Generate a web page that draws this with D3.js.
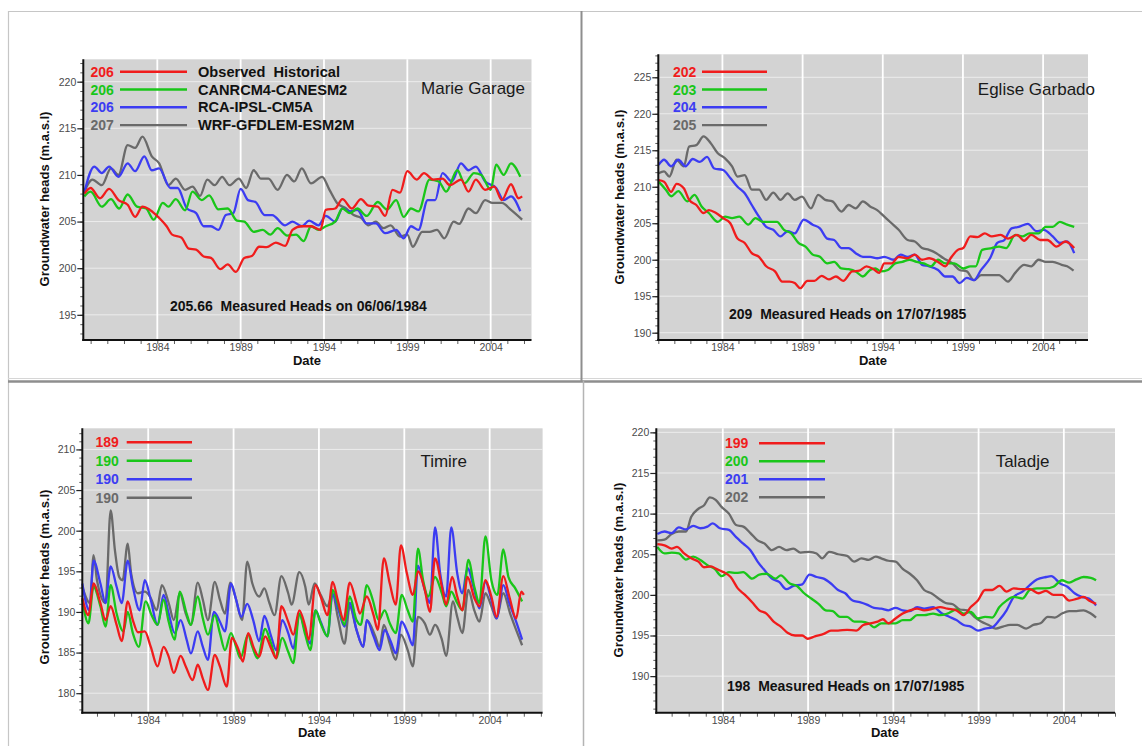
<!DOCTYPE html>
<html>
<head>
<meta charset="utf-8">
<script src="https://cdn.jsdelivr.net/npm/d3@7"></script>
<style>
  body { margin: 0; background: #ffffff; }
  svg { display: block; }
  text { font-family: "Liberation Sans", Arial, Helvetica, sans-serif; }
</style>
</head>
<body>
<svg id="fig" width="1142" height="746"></svg>
<script>
// ---------- shared labels ----------
const seriesNames = ["Observed  Historical", "CANRCM4-CANESM2", "RCA-IPSL-CM5A", "WRF-GFDLEM-ESM2M"];
const seriesColors = ["#f01c1c", "#19c619", "#3c3cf2", "#6a6a6a"];
const yearTicks = [1984, 1989, 1994, 1999, 2004];
const yAxisTitle = "Groundwater heads (m.a.s.l)";
const xAxisTitle = "Date";

// ---------- Marie Garage ----------
const marieLegend = ["206", "206", "206", "207"];
const marieYTicks = [195, 200, 205, 210, 215, 220];
const marieNote = "205.66  Measured Heads on 06/06/1984";
const marieObserved = [[1979.62,208.0],[1980.0,208.6],[1980.56,207.5],[1981.11,208.5],[1981.67,207.3],[1982.22,206.8],[1982.67,205.5],[1983.11,206.6],[1983.56,206.25],[1984.11,205.4],[1984.56,204.5],[1984.89,203.6],[1985.44,203.3],[1985.89,202.1],[1986.33,202.0],[1986.78,201.25],[1987.22,201.1],[1987.78,199.9],[1988.22,200.4],[1988.71,199.6],[1989.22,201.1],[1989.67,201.3],[1990.11,202.3],[1990.56,202.25],[1991.11,202.75],[1991.67,202.4],[1992.11,204.1],[1992.67,204.5],[1993.22,204.5],[1993.78,204.1],[1994.11,206.25],[1994.67,206.4],[1995.11,207.4],[1995.67,206.4],[1996.22,207.4],[1996.67,206.7],[1997.22,206.6],[1997.67,205.6],[1998.11,208.4],[1998.56,208.1],[1999.0,210.4],[1999.56,209.5],[2000.0,210.2],[2000.56,209.5],[2001.11,209.6],[2001.56,208.9],[2002.22,209.5],[2002.67,208.2],[2003.11,209.5],[2003.67,208.4],[2004.22,208.75],[2004.67,207.3],[2005.22,209.0],[2005.67,207.5],[2005.89,207.7]];
const marieCanrcm4 = [[1979.62,207.7],[1980.0,208.2],[1980.67,206.6],[1981.22,207.4],[1981.71,206.4],[1982.22,207.9],[1982.78,206.6],[1983.33,206.4],[1983.78,205.2],[1984.33,207.0],[1984.67,206.6],[1985.11,207.4],[1985.67,206.2],[1986.11,208.2],[1986.67,207.3],[1987.11,207.8],[1987.67,206.3],[1988.22,206.4],[1988.78,205.1],[1989.22,205.0],[1989.78,203.9],[1990.33,204.1],[1990.78,203.6],[1991.22,204.3],[1991.78,203.5],[1992.33,203.6],[1992.78,202.9],[1993.22,204.5],[1993.67,204.1],[1994.11,204.5],[1994.67,205.0],[1995.11,206.4],[1995.56,205.9],[1996.0,206.4],[1996.56,205.6],[1997.22,207.1],[1997.78,206.3],[1998.33,207.3],[1998.78,205.5],[1999.22,206.4],[1999.67,206.1],[2000.33,209.5],[2000.89,209.3],[2001.33,208.2],[2002.0,210.5],[2002.44,209.1],[2003.0,210.2],[2003.44,210.0],[2004.0,208.4],[2004.33,211.1],[2004.78,210.0],[2005.22,211.25],[2005.78,209.8]];
const marieRca = [[1979.62,208.1],[1980.22,210.9],[1980.67,210.2],[1981.11,210.9],[1981.67,209.8],[1982.22,211.25],[1982.67,210.4],[1983.22,212.0],[1983.67,210.5],[1984.11,210.7],[1984.78,208.6],[1985.22,208.6],[1985.78,206.4],[1986.33,205.9],[1986.78,204.5],[1987.22,204.5],[1987.67,204.1],[1988.11,205.7],[1988.56,205.9],[1989.0,208.5],[1989.44,207.3],[1989.89,207.1],[1990.44,205.7],[1990.89,205.7],[1991.67,204.6],[1992.11,205.0],[1992.67,204.5],[1993.11,205.1],[1993.67,204.6],[1994.11,205.6],[1994.67,205.0],[1995.11,206.4],[1995.56,206.1],[1996.0,206.25],[1996.56,204.8],[1997.11,204.8],[1997.67,203.75],[1998.33,204.1],[1998.78,203.2],[1999.22,204.5],[1999.67,204.1],[2000.22,207.3],[2000.67,207.3],[2001.11,210.2],[2001.67,209.3],[2002.22,211.25],[2002.67,210.5],[2003.11,210.9],[2003.67,209.3],[2004.33,208.6],[2004.78,207.3],[2005.22,207.7],[2005.78,206.1]];
const marieWrf = [[1979.62,208.2],[1980.11,209.5],[1980.67,208.9],[1981.22,210.7],[1981.67,210.0],[1982.22,213.2],[1982.67,212.9],[1983.11,214.1],[1983.67,212.0],[1984.11,211.25],[1984.67,208.9],[1985.11,209.6],[1985.67,208.4],[1986.11,208.75],[1986.56,207.75],[1987.0,209.5],[1987.44,208.9],[1987.89,209.8],[1988.33,208.9],[1988.89,209.6],[1989.33,208.6],[1989.78,210.5],[1990.22,209.6],[1990.67,209.6],[1991.22,208.4],[1991.78,210.0],[1992.22,209.3],[1992.67,210.7],[1993.22,209.1],[1993.89,209.8],[1994.33,208.4],[1994.78,207.0],[1995.33,206.4],[1995.78,205.7],[1996.22,205.4],[1996.67,204.6],[1997.11,205.0],[1997.56,204.3],[1998.0,204.6],[1998.56,203.4],[1999.0,203.6],[1999.33,202.3],[1999.89,203.9],[2000.33,203.9],[2000.78,204.1],[2001.22,203.2],[2001.78,205.0],[2002.11,204.75],[2002.67,206.4],[2003.11,205.9],[2003.67,207.3],[2004.11,207.0],[2004.67,207.0],[2005.22,206.25],[2005.89,205.2]];

// ---------- Eglise Garbado ----------
const egliseLegend = ["202", "203", "204", "205"];
const egliseYTicks = [190, 195, 200, 205, 210, 215, 220, 225];
const egliseNote = "209  Measured Heads on 17/07/1985";
const egliseObserved = [[1980.02,210.9],[1980.36,210.7],[1980.8,209.3],[1981.14,210.4],[1981.59,209.8],[1981.92,208.2],[1982.37,207.5],[1982.82,206.4],[1983.15,206.8],[1983.6,206.4],[1984.04,205.7],[1984.49,205.0],[1984.94,202.9],[1985.39,202.3],[1985.83,200.9],[1986.28,200.4],[1986.73,199.1],[1987.28,198.4],[1987.73,197.0],[1988.18,197.0],[1988.51,196.8],[1988.85,196.1],[1989.3,197.1],[1989.74,197.1],[1990.19,197.8],[1990.64,197.3],[1991.08,197.7],[1991.53,197.1],[1992.09,198.4],[1992.54,198.5],[1992.98,199.1],[1993.43,198.7],[1993.77,198.2],[1994.1,199.5],[1994.55,199.5],[1994.99,200.4],[1995.55,200.2],[1996.0,200.7],[1996.45,200.0],[1996.89,200.2],[1997.45,199.7],[1997.9,199.1],[1998.23,200.2],[1998.68,201.35],[1999.02,201.6],[1999.46,203.2],[1999.91,203.1],[2000.36,203.6],[2000.8,203.2],[2001.35,203.4],[2001.81,202.9],[2002.37,203.4],[2002.82,202.6],[2003.26,203.4],[2003.82,202.7],[2004.27,202.7],[2004.83,201.8],[2005.39,202.5],[2005.94,201.6]];
const egliseCanrcm4 = [[1980.02,210.7],[1980.47,209.6],[1980.8,208.7],[1981.25,209.4],[1981.81,208.0],[1982.26,208.9],[1982.7,207.3],[1983.15,206.4],[1983.71,205.2],[1984.16,205.9],[1984.6,205.7],[1985.05,205.9],[1985.61,204.8],[1986.06,205.7],[1986.5,205.2],[1986.95,205.2],[1987.4,205.2],[1987.84,204.1],[1988.29,203.6],[1988.74,202.3],[1989.18,201.8],[1989.63,200.7],[1990.08,200.4],[1990.53,199.5],[1990.97,199.7],[1991.42,198.8],[1991.87,198.7],[1992.31,198.4],[1992.76,197.7],[1993.21,198.6],[1993.54,198.8],[1993.88,198.4],[1994.32,198.6],[1994.77,199.5],[1995.22,199.7],[1995.66,200.0],[1996.11,199.7],[1996.56,199.5],[1997.01,199.1],[1997.45,200.0],[1997.9,199.5],[1998.46,199.5],[1999.02,198.8],[1999.46,199.1],[1999.8,199.1],[2000.2,201.35],[2000.8,201.6],[2001.25,201.8],[2001.7,201.6],[2002.26,203.4],[2002.7,203.2],[2003.15,203.6],[2003.71,203.6],[2004.16,204.5],[2004.6,204.5],[2005.05,205.2],[2005.5,204.8],[2005.94,204.5]];
const egliseRca = [[1980.02,213.0],[1980.36,213.7],[1980.8,212.8],[1981.25,213.7],[1981.7,212.8],[1982.15,213.8],[1982.59,213.4],[1983.04,214.1],[1983.49,212.5],[1984.04,212.3],[1984.49,211.2],[1984.94,210.0],[1985.39,209.1],[1985.83,207.5],[1986.28,205.9],[1986.73,204.5],[1987.17,204.1],[1987.62,203.2],[1988.07,203.9],[1988.51,203.6],[1989.07,205.5],[1989.63,204.8],[1990.08,204.3],[1990.53,202.9],[1990.97,202.7],[1991.42,201.6],[1991.87,201.6],[1992.31,200.9],[1992.76,200.4],[1993.21,200.4],[1993.65,200.2],[1994.1,200.4],[1994.66,200.0],[1995.11,200.7],[1995.55,200.4],[1996.0,200.7],[1996.45,199.3],[1996.89,199.1],[1997.45,198.6],[1997.9,197.7],[1998.35,197.7],[1998.79,196.8],[1999.24,197.5],[1999.69,197.2],[2000.13,198.6],[2000.69,200.2],[2001.14,202.3],[2001.58,202.7],[2002.03,204.3],[2002.48,204.5],[2003.04,204.9],[2003.6,203.9],[2004.04,204.1],[2004.6,203.2],[2005.05,202.3],[2005.5,202.5],[2005.94,200.9]];
const egliseWrf = [[1980.02,211.85],[1980.36,212.1],[1980.69,211.4],[1981.14,213.7],[1981.59,212.8],[1981.92,215.5],[1982.37,215.7],[1982.82,216.9],[1983.26,216.0],[1983.71,214.6],[1984.16,213.9],[1984.6,212.8],[1984.94,211.4],[1985.39,211.6],[1985.83,209.6],[1986.28,209.6],[1986.73,208.2],[1987.17,209.2],[1987.62,208.2],[1988.07,209.1],[1988.51,208.2],[1988.96,208.65],[1989.52,207.05],[1989.97,208.9],[1990.41,208.2],[1990.86,208.0],[1991.42,206.6],[1991.87,207.5],[1992.31,207.05],[1992.76,208.0],[1993.21,207.3],[1993.65,206.8],[1994.1,205.9],[1994.55,205.0],[1994.99,204.1],[1995.55,202.7],[1996.0,202.5],[1996.45,201.6],[1996.89,201.35],[1997.34,200.9],[1997.79,200.2],[1998.35,199.5],[1998.79,198.6],[1999.24,198.4],[1999.69,197.2],[2000.13,197.9],[2000.69,197.9],[2001.25,197.9],[2001.81,197.0],[2002.26,198.2],[2002.82,199.3],[2003.26,199.1],[2003.71,200.0],[2004.16,199.7],[2004.6,199.7],[2005.16,199.3],[2005.5,199.1],[2005.9,198.5]];

// ---------- Timire ----------
const timireLegend = ["189", "190", "190", "190"];
const timireYTicks = [180, 185, 190, 195, 200, 205, 210];
const timireObserved = [[1980.14,191.7],[1980.5,189.6],[1980.8,193.5],[1981.2,191.1],[1981.5,189.0],[1981.8,190.7],[1982.15,188.4],[1982.45,186.4],[1982.8,191.3],[1983.1,189.0],[1983.4,187.5],[1983.8,187.6],[1984.15,185.7],[1984.55,183.3],[1984.9,185.7],[1985.2,184.5],[1985.5,182.5],[1985.9,184.6],[1986.2,183.3],[1986.6,181.6],[1986.9,183.5],[1987.2,181.8],[1987.5,180.4],[1987.9,184.7],[1988.2,183.3],[1988.6,180.8],[1988.9,186.8],[1989.3,185.3],[1989.55,183.9],[1989.85,187.4],[1990.2,185.5],[1990.5,184.5],[1990.85,187.0],[1991.2,185.5],[1991.5,184.3],[1991.8,190.7],[1992.2,188.8],[1992.5,187.2],[1992.85,190.2],[1993.2,188.2],[1993.4,186.6],[1993.8,193.3],[1994.1,191.9],[1994.5,189.6],[1994.8,193.7],[1995.1,191.5],[1995.45,189.0],[1995.8,193.6],[1996.2,191.1],[1996.4,189.8],[1996.8,191.9],[1997.2,189.6],[1997.45,187.8],[1997.8,196.6],[1998.15,193.5],[1998.5,190.9],[1998.8,198.2],[1999.15,194.75],[1999.5,192.1],[1999.8,195.0],[2000.2,192.7],[2000.5,190.0],[2000.8,196.6],[2001.2,193.1],[2001.45,190.9],[2001.8,194.3],[2002.1,191.9],[2002.4,190.2],[2002.7,194.3],[2003.1,191.7],[2003.4,190.7],[2003.75,193.9],[2004.1,191.9],[2004.4,189.4],[2004.8,194.4],[2005.15,191.9],[2005.55,189.2],[2005.85,192.5],[2006.0,192.1]];
const timireCanrcm4 = [[1980.14,191.5],[1980.5,188.6],[1980.8,193.1],[1981.2,190.7],[1981.5,188.2],[1981.8,193.3],[1982.15,189.8],[1982.55,187.6],[1982.8,190.0],[1983.1,187.4],[1983.45,185.7],[1983.85,191.3],[1984.2,189.6],[1984.55,188.4],[1984.9,191.5],[1985.2,188.8],[1985.55,186.6],[1985.85,192.5],[1986.25,189.8],[1986.5,188.4],[1986.9,191.9],[1987.2,189.2],[1987.5,187.2],[1987.9,189.6],[1988.2,187.4],[1988.5,185.3],[1988.85,187.4],[1989.15,185.7],[1989.4,184.3],[1989.85,187.2],[1990.1,185.7],[1990.4,184.3],[1990.85,187.9],[1991.2,186.1],[1991.5,184.3],[1991.85,186.8],[1992.2,185.1],[1992.5,183.7],[1992.85,189.8],[1993.2,187.2],[1993.5,185.3],[1993.8,190.2],[1994.1,188.6],[1994.5,187.0],[1994.8,192.7],[1995.15,190.7],[1995.5,188.4],[1995.8,191.9],[1996.2,189.0],[1996.45,188.4],[1996.8,193.3],[1997.15,191.5],[1997.5,189.0],[1997.85,190.2],[1998.15,188.6],[1998.5,187.4],[1998.85,192.1],[1999.2,190.2],[1999.5,188.8],[1999.8,197.8],[2000.1,193.9],[2000.4,191.9],[2000.8,194.3],[2001.2,192.3],[2001.45,190.7],[2001.75,192.5],[2002.1,191.1],[2002.4,190.2],[2002.75,196.4],[2003.1,193.1],[2003.4,191.1],[2003.75,199.3],[2004.1,193.9],[2004.45,192.1],[2004.8,197.7],[2005.1,194.3],[2005.5,192.9],[2005.9,191.3]];
const timireRca = [[1980.14,193.5],[1980.55,190.2],[1980.8,196.3],[1981.2,193.5],[1981.5,191.1],[1981.8,195.6],[1982.15,193.1],[1982.45,191.1],[1982.8,196.3],[1983.1,193.1],[1983.5,190.2],[1983.8,193.9],[1984.15,191.5],[1984.55,188.4],[1984.9,192.1],[1985.2,189.8],[1985.55,187.4],[1985.9,189.0],[1986.25,186.6],[1986.5,184.9],[1986.9,187.6],[1987.2,185.7],[1987.5,184.1],[1987.85,190.0],[1988.2,188.8],[1988.5,187.6],[1988.85,193.5],[1989.15,191.5],[1989.45,189.4],[1989.8,191.0],[1990.15,189.0],[1990.5,186.4],[1990.8,189.5],[1991.2,187.0],[1991.5,185.3],[1991.85,189.0],[1992.2,187.4],[1992.5,185.5],[1992.85,189.8],[1993.2,187.6],[1993.5,186.1],[1993.8,190.2],[1994.1,188.8],[1994.5,187.0],[1994.8,192.2],[1995.15,190.2],[1995.5,188.2],[1995.8,191.1],[1996.2,187.8],[1996.6,185.7],[1996.8,189.0],[1997.2,187.0],[1997.55,185.3],[1997.85,187.8],[1998.2,186.4],[1998.5,184.9],[1998.85,188.8],[1999.2,187.4],[1999.5,185.9],[1999.8,195.7],[2000.2,192.7],[2000.5,191.1],[2000.8,200.4],[2001.1,194.75],[2001.45,191.9],[2001.75,200.4],[2002.1,194.75],[2002.4,192.3],[2002.7,195.4],[2003.1,192.7],[2003.4,190.45],[2003.75,193.7],[2004.1,191.5],[2004.4,189.2],[2004.8,193.3],[2005.15,191.1],[2005.55,188.8],[2005.9,186.6]];
const timireWrf = [[1980.14,193.1],[1980.6,191.1],[1980.8,197.0],[1981.0,193.9],[1981.5,191.1],[1981.8,202.5],[1982.05,197.6],[1982.3,194.3],[1982.5,193.9],[1982.8,198.4],[1983.0,194.75],[1983.4,192.3],[1983.8,192.5],[1984.1,191.9],[1984.5,190.2],[1984.8,193.3],[1985.2,191.1],[1985.5,189.0],[1985.85,192.3],[1986.2,189.8],[1986.5,188.4],[1986.9,193.6],[1987.2,191.5],[1987.5,189.0],[1987.9,193.7],[1988.2,191.5],[1988.5,189.8],[1988.8,193.6],[1989.1,191.9],[1989.5,189.0],[1989.8,196.2],[1990.1,193.5],[1990.5,191.9],[1990.8,192.9],[1991.1,191.1],[1991.4,189.6],[1991.8,194.4],[1992.2,192.3],[1992.4,190.9],[1992.85,194.9],[1993.2,193.1],[1993.4,190.9],[1993.75,193.5],[1994.1,192.1],[1994.5,190.7],[1994.8,192.3],[1995.1,189.4],[1995.5,186.1],[1995.8,190.7],[1996.2,187.8],[1996.6,185.7],[1996.8,189.0],[1997.3,187.0],[1997.55,185.7],[1997.8,188.4],[1998.15,186.1],[1998.5,184.1],[1998.8,187.2],[1999.2,185.3],[1999.5,183.3],[1999.8,189.4],[2000.2,188.6],[2000.5,187.2],[2000.8,188.4],[2001.2,186.6],[2001.45,184.6],[2001.85,191.3],[2002.1,189.4],[2002.4,187.4],[2002.75,192.7],[2003.1,190.2],[2003.4,188.8],[2003.75,192.3],[2004.1,190.7],[2004.4,189.2],[2004.8,192.3],[2005.2,189.8],[2005.55,187.8],[2005.9,185.9]];

// ---------- Taladje ----------
const taladjeLegend = ["199", "200", "201", "202"];
const taladjeYTicks = [190, 195, 200, 205, 210, 215, 220];
const taladjeNote = "198  Measured Heads on 17/07/1985";
const taladjeObserved = [[1980.16,206.25],[1980.58,206.1],[1981.0,205.7],[1981.31,205.9],[1981.73,205.1],[1982.15,204.5],[1982.57,204.1],[1982.89,203.4],[1983.31,203.5],[1983.62,203.2],[1984.04,202.8],[1984.46,202.2],[1984.88,200.8],[1985.3,200.0],[1985.72,199.1],[1986.14,198.1],[1986.56,197.7],[1986.98,196.7],[1987.4,196.1],[1987.82,195.3],[1988.24,195.0],[1988.66,195.0],[1988.98,194.6],[1989.4,194.9],[1989.92,195.2],[1990.34,195.6],[1990.76,195.6],[1991.29,195.7],[1991.82,195.6],[1992.24,196.3],[1992.66,196.5],[1993.08,196.7],[1993.39,197.0],[1993.71,196.5],[1994.13,197.1],[1994.55,197.7],[1994.97,198.1],[1995.39,198.3],[1995.81,198.1],[1996.33,198.3],[1996.75,198.5],[1997.17,198.3],[1997.7,198.1],[1998.12,197.5],[1998.54,198.5],[1998.96,199.3],[1999.38,200.6],[1999.8,200.6],[2000.22,201.1],[2000.64,200.4],[2001.06,200.8],[2001.58,200.7],[2002.0,200.7],[2002.53,200.2],[2002.95,200.5],[2003.39,200.0],[2003.89,200.0],[2004.31,199.3],[2004.74,199.5],[2005.16,199.75],[2005.47,199.3],[2005.89,198.9]];
const taladjeCanrcm4 = [[1980.16,205.9],[1980.58,205.1],[1981.0,205.2],[1981.42,205.1],[1981.84,204.35],[1982.26,204.7],[1982.68,204.3],[1983.1,203.65],[1983.52,203.2],[1983.94,202.3],[1984.36,202.8],[1984.78,202.7],[1985.2,202.8],[1985.72,202.0],[1986.14,202.5],[1986.56,202.6],[1987.09,202.0],[1987.4,202.4],[1987.93,201.4],[1988.35,201.1],[1988.77,200.2],[1989.19,199.55],[1989.61,198.9],[1990.03,198.1],[1990.45,198.0],[1990.87,197.3],[1991.29,197.3],[1991.71,196.7],[1992.13,196.7],[1992.55,196.5],[1992.87,196.0],[1993.29,196.5],[1993.71,196.5],[1994.13,196.5],[1994.55,196.9],[1994.97,196.9],[1995.39,197.5],[1995.81,197.5],[1996.33,197.7],[1996.75,197.5],[1997.17,197.7],[1997.7,198.2],[1998.12,197.7],[1998.54,197.9],[1998.96,197.1],[1999.38,197.3],[1999.8,197.2],[2000.22,198.5],[2000.64,199.3],[2001.06,199.75],[2001.58,199.55],[2002.0,200.6],[2002.42,200.8],[2002.95,200.8],[2003.39,201.0],[2003.89,201.8],[2004.31,201.5],[2004.74,201.9],[2005.16,202.2],[2005.58,202.1],[2005.89,201.8]];
const taladjeRca = [[1980.16,207.5],[1980.58,207.8],[1981.0,207.6],[1981.42,208.3],[1981.84,208.05],[1982.26,208.5],[1982.68,208.2],[1983.1,208.4],[1983.41,208.8],[1983.83,208.2],[1984.36,208.0],[1984.78,207.1],[1985.2,206.3],[1985.62,205.5],[1986.04,204.1],[1986.46,203.0],[1986.88,202.0],[1987.3,201.6],[1987.72,200.7],[1988.14,201.1],[1988.66,201.3],[1989.08,202.5],[1989.5,202.2],[1989.92,202.0],[1990.34,201.4],[1990.76,200.6],[1991.18,200.2],[1991.61,199.3],[1992.03,199.1],[1992.45,198.8],[1992.87,198.4],[1993.29,198.3],[1993.71,198.1],[1994.13,198.4],[1994.55,198.1],[1994.97,198.0],[1995.39,198.5],[1995.81,198.3],[1996.33,198.5],[1996.86,197.7],[1997.28,197.3],[1997.7,196.9],[1998.12,196.3],[1998.54,196.1],[1998.96,195.6],[1999.38,195.85],[1999.8,196.0],[2000.22,196.9],[2000.64,198.1],[2001.06,199.75],[2001.58,200.4],[2002.0,201.2],[2002.42,201.9],[2002.95,202.2],[2003.26,202.3],[2003.79,201.4],[2004.21,201.0],[2004.63,200.2],[2005.05,199.75],[2005.47,199.55],[2005.89,198.7]];
const taladjeWrf = [[1980.16,206.7],[1980.58,206.8],[1981.0,207.5],[1981.42,207.8],[1981.84,207.8],[1982.15,209.6],[1982.57,210.6],[1982.89,211.0],[1983.24,212.0],[1983.58,211.7],[1983.94,210.8],[1984.36,210.0],[1984.78,208.6],[1985.2,208.4],[1985.62,207.6],[1986.04,206.7],[1986.46,206.3],[1986.88,205.5],[1987.3,205.9],[1987.72,205.5],[1988.14,205.7],[1988.56,205.2],[1989.08,205.3],[1989.5,205.1],[1989.82,204.5],[1990.24,205.3],[1990.76,205.0],[1991.29,204.8],[1991.71,204.1],[1992.13,204.5],[1992.55,204.3],[1992.97,204.7],[1993.29,204.5],[1993.71,204.2],[1994.13,204.1],[1994.55,203.2],[1994.97,202.6],[1995.39,201.8],[1995.81,200.6],[1996.23,200.2],[1996.65,199.55],[1997.07,199.0],[1997.49,198.85],[1997.91,198.2],[1998.33,198.1],[1998.75,197.3],[1999.17,196.7],[1999.59,196.3],[2000.01,195.85],[2000.43,196.1],[2000.85,196.3],[2001.27,196.3],[2001.79,195.85],[2002.21,196.3],[2002.63,196.5],[2003.05,197.3],[2003.47,197.2],[2003.89,197.7],[2004.31,198.0],[2004.74,198.0],[2005.16,198.1],[2005.58,197.7],[2005.89,197.2]];

// ---------- layout of the four panels ----------
const panels = [
  {
    title: "Marie Garage", legendValues: marieLegend, yTicks: marieYTicks, note: marieNote,
    series: [marieObserved, marieCanrcm4, marieRca, marieWrf], showNames: true,
    box: { left: 83.3, right: 531.5, top: 59.3, bottom: 340 },
    xDomain: [1979.56, 2006.45], yDomain: [192.3, 222.4],
    legend: { numX: 90.5, x1: 120, x2: 187, labelX: 198, y0: 71.7, dy: 17.8 },
    titlePos: { x: 525, y: 88, anchor: "end" }, notePos: { x: 170, y: 306 },
    yTitlePos: { x: 44, y: 199 }, xTitlePos: { x: 307, y: 360 }
  },
  {
    title: "Eglise Garbado", legendValues: egliseLegend, yTicks: egliseYTicks, note: egliseNote,
    series: [egliseObserved, egliseCanrcm4, egliseRca, egliseWrf], showNames: false,
    box: { left: 658.3, right: 1088, top: 54.3, bottom: 340 },
    xDomain: [1980.0, 2006.8], yDomain: [189.0, 228.15],
    legend: { numX: 673, x1: 702, x2: 767, labelX: 0, y0: 71.7, dy: 17.8 },
    titlePos: { x: 1095, y: 89, anchor: "end" }, notePos: { x: 729, y: 314 },
    yTitlePos: { x: 619, y: 197 }, xTitlePos: { x: 873, y: 360 }
  },
  {
    title: "Timire", legendValues: timireLegend, yTicks: timireYTicks, note: null,
    series: [timireObserved, timireCanrcm4, timireRca, timireWrf], showNames: false,
    box: { left: 82.3, right: 542.6, top: 428.3, bottom: 712.7 },
    xDomain: [1980.14, 2007.1], yDomain: [177.6, 212.6],
    legend: { numX: 95.5, x1: 126.7, x2: 192, labelX: 0, y0: 442.3, dy: 18.5 },
    titlePos: { x: 467, y: 461, anchor: "end" }, notePos: null,
    yTitlePos: { x: 44, y: 577 }, xTitlePos: { x: 312, y: 732.7 }
  },
  {
    title: "Taladje", legendValues: taladjeLegend, yTicks: taladjeYTicks, note: taladjeNote,
    series: [taladjeObserved, taladjeCanrcm4, taladjeRca, taladjeWrf], showNames: false,
    box: { left: 656.3, right: 1115, top: 428.3, bottom: 712.7 },
    xDomain: [1980.1, 2007.0], yDomain: [185.5, 220.5],
    legend: { numX: 725, x1: 759, x2: 825, labelX: 0, y0: 443.3, dy: 18 },
    titlePos: { x: 1049.5, y: 461, anchor: "end" }, notePos: { x: 727, y: 686 },
    yTitlePos: { x: 618, y: 570 }, xTitlePos: { x: 885, y: 732.7 }
  }
];

const svg = d3.select("#fig");

// ---------- figure frame ----------
const frame = svg.append("g");
const frameLines = [
  { x1: 8, y1: 11.5, x2: 1142, y2: 11.5, c: "#c6c6c6", w: 1.2 },
  { x1: 8.5, y1: 11, x2: 8.5, y2: 746, c: "#c6c6c6", w: 1.2 },
  { x1: 8, y1: 378.5, x2: 1142, y2: 378.5, c: "#d6d6d6", w: 1 },
  { x1: 8, y1: 381.5, x2: 1142, y2: 381.5, c: "#8e8e8e", w: 2.6 },
  { x1: 581.5, y1: 11, x2: 581.5, y2: 381, c: "#8e8e8e", w: 2 },
  { x1: 583.5, y1: 381, x2: 583.5, y2: 746, c: "#b4b4b4", w: 1.5 }
];
frame.selectAll("line").data(frameLines).join("line")
  .attr("x1", d => d.x1).attr("y1", d => d.y1).attr("x2", d => d.x2).attr("y2", d => d.y2)
  .attr("stroke", d => d.c).attr("stroke-width", d => d.w);

function drawPanel(p) {
  const g = svg.append("g");
  const b = p.box;
  const x = d3.scaleLinear().domain(p.xDomain).range([b.left, b.right]);
  const y = d3.scaleLinear().domain(p.yDomain).range([b.bottom, b.top]);

  // plot background
  g.append("rect").attr("x", b.left).attr("y", b.top)
    .attr("width", b.right - b.left).attr("height", b.bottom - b.top)
    .attr("fill", "#d3d3d3");

  // white grid
  g.append("g").selectAll("line").data(p.yTicks).join("line")
    .attr("x1", b.left).attr("x2", b.right)
    .attr("y1", d => y(d)).attr("y2", d => y(d))
    .attr("stroke", "#ececec").attr("stroke-width", 1);
  g.append("g").selectAll("line").data(yearTicks).join("line")
    .attr("x1", d => x(d)).attr("x2", d => x(d))
    .attr("y1", b.top).attr("y2", b.bottom)
    .attr("stroke", "#ffffff").attr("stroke-width", 1.8);

  // series lines (grey drawn first, observed last)
  const line = d3.line().x(d => x(d[0])).y(d => y(d[1])).curve(d3.curveMonotoneX);
  const order = [3, 2, 1, 0];
  g.append("g").selectAll("path").data(order).join("path")
    .attr("d", i => line(p.series[i]))
    .attr("fill", "none")
    .attr("stroke", i => seriesColors[i])
    .attr("stroke-width", 2.3)
    .attr("stroke-linejoin", "round");

  // axes
  const minorY = d3.range(Math.ceil(p.yDomain[0]), Math.floor(p.yDomain[1]) + 1);
  const yearsAll = d3.range(Math.ceil(p.xDomain[0]), Math.floor(p.xDomain[1]) + 1);

  const yMinor = g.append("g").attr("transform", `translate(${b.left},0)`)
    .call(d3.axisLeft(y).tickValues(minorY).tickSize(3).tickFormat(""));
  yMinor.select(".domain").remove();
  yMinor.selectAll("line").attr("stroke", "#333").attr("stroke-width", 0.8);

  const yMajor = g.append("g").attr("transform", `translate(${b.left},0)`)
    .call(d3.axisLeft(y).tickValues(p.yTicks).tickSize(6).tickPadding(1).tickFormat(d3.format("d")));
  yMajor.select(".domain").remove();
  yMajor.selectAll("line").attr("stroke", "#222").attr("stroke-width", 1.2);
  yMajor.selectAll("text").attr("fill", "#4a4a4a").attr("font-size", 10.5)
    .attr("font-family", "Liberation Sans, Arial, sans-serif");

  const xMinor = g.append("g").attr("transform", `translate(0,${b.bottom})`)
    .call(d3.axisBottom(x).tickValues(yearsAll).tickSize(4).tickFormat(""));
  xMinor.select(".domain").remove();
  xMinor.selectAll("line").attr("stroke", "#333").attr("stroke-width", 0.8);

  const xMajor = g.append("g").attr("transform", `translate(0,${b.bottom})`)
    .call(d3.axisBottom(x).tickValues(yearTicks).tickSize(0).tickPadding(4).tickFormat(d3.format("d")));
  xMajor.select(".domain").remove();
  xMajor.selectAll("text").attr("fill", "#4a4a4a").attr("font-size", 10.5)
    .attr("font-family", "Liberation Sans, Arial, sans-serif");

  // axis lines
  g.append("line").attr("x1", b.left).attr("x2", b.left).attr("y1", b.top).attr("y2", b.bottom + 1)
    .attr("stroke", "#111").attr("stroke-width", 2);
  g.append("line").attr("x1", b.left - 1).attr("x2", b.right).attr("y1", b.bottom).attr("y2", b.bottom)
    .attr("stroke", "#111").attr("stroke-width", 2);

  // axis titles
  g.append("text")
    .attr("transform", `translate(${p.yTitlePos.x},${p.yTitlePos.y}) rotate(-90)`)
    .attr("text-anchor", "middle").attr("dominant-baseline", "central")
    .attr("font-size", 13).attr("font-weight", "bold").attr("fill", "#111")
    .text(yAxisTitle);
  g.append("text").attr("x", p.xTitlePos.x).attr("y", p.xTitlePos.y)
    .attr("text-anchor", "middle").attr("dominant-baseline", "central")
    .attr("font-size", 13).attr("font-weight", "bold").attr("fill", "#111")
    .text(xAxisTitle);

  // legend
  const L = p.legend;
  const rows = g.append("g").selectAll("g").data([0, 1, 2, 3]).join("g")
    .attr("transform", i => `translate(0,${L.y0 + i * L.dy})`);
  rows.append("text").attr("x", L.numX).attr("y", 0)
    .attr("dominant-baseline", "central").attr("font-size", 14)
    .attr("font-weight", "bold")
    .attr("fill", i => seriesColors[i])
    .text(i => p.legendValues[i]);
  rows.append("line").attr("x1", L.x1).attr("x2", L.x2).attr("y1", 0).attr("y2", 0)
    .attr("stroke", i => seriesColors[i]).attr("stroke-width", 2.4);
  if (p.showNames) {
    rows.append("text").attr("x", L.labelX).attr("y", 0)
      .attr("dominant-baseline", "central").attr("font-size", 14.6)
      .attr("font-weight", "bold").attr("fill", "#111")
      .style("white-space", "pre")
      .text(i => seriesNames[i]);
  }

  // station name
  g.append("text").attr("x", p.titlePos.x).attr("y", p.titlePos.y)
    .attr("text-anchor", p.titlePos.anchor).attr("dominant-baseline", "central")
    .attr("font-size", 17).attr("fill", "#1a1a1a")
    .text(p.title);

  // measured-head note
  if (p.note) {
    g.append("text").attr("x", p.notePos.x).attr("y", p.notePos.y)
      .attr("dominant-baseline", "central").attr("font-size", 14)
      .attr("font-weight", "bold").attr("fill", "#111")
      .style("white-space", "pre")
      .text(p.note);
  }
}

panels.forEach(drawPanel);
</script>
</body>
</html>
